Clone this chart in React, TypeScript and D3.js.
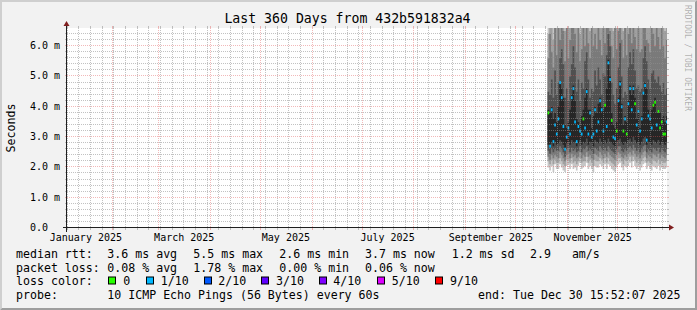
import React from "react";
import * as d3 from "d3";

const W = 697;
const H = 310;
const FONT = "'DejaVu Sans Mono', monospace";

const startTime = new Date(Date.UTC(2025, 0, 4, 15, 52, 7));
const endTime = new Date(Date.UTC(2025, 11, 30, 15, 52, 7));
const yMax = 6.6;

const yTicks = [0, 1, 2, 3, 4, 5, 6];
const yTickLabels = ["0.0", "1.0 m", "2.0 m", "3.0 m", "4.0 m", "5.0 m", "6.0 m"];
const xLabelMonths = ["2025-01-01", "2025-03-01", "2025-05-01", "2025-07-01", "2025-09-01", "2025-11-01"];
const xLabels = ["January 2025", "March 2025", "May 2025", "July 2025", "September 2025", "November 2025"];

const firstDay = "2025-10-20";

// median rtt per day (ms)
const median = [3.80,2.70,3.90,2.85,3.40,3.10,3.60,4.80,4.30,3.35,2.60,3.00,3.30,3.10,4.30,4.60,3.50,2.85,3.35,3.20,3.10,3.60,3.30,4.50,3.10,3.80,3.00,3.10,3.90,3.20,3.50,4.20,3.90,3.20,4.05,3.35,5.45,4.90,3.55,3.00,2.95,3.20,4.20,4.75,4.00,3.20,3.60,3.10,4.10,4.60,3.90,4.60,4.10,3.40,3.85,3.20,3.60,4.45,4.70,2.90,3.70,3.60,3.30,4.05,4.15,3.40,3.85,3.30,3.50,3.10,3.10,3.50];
// loss class index into lossColors
const lossClass = [0,1,1,1,1,1,1,1,1,1,1,1,1,1,1,1,1,1,1,1,1,0,1,1,1,1,1,1,1,1,1,1,1,1,0,1,1,1,0,1,1,0,1,1,1,0,1,0,1,1,1,1,0,1,1,1,1,1,1,1,1,1,1,0,0,1,0,0,0,0,0,1];

// sorted ping times per day (ms)
const ping1 = [2.00,1.90,2.05,1.85,2.10,1.95,1.95,2.10,2.00,1.90,1.85,2.05,2.10,1.95,2.10,1.95,2.00,1.90,2.05,2.15,1.95,2.00,2.05,2.15,1.95,2.05,1.95,1.85,2.05,2.00,2.00,2.10,2.05,1.95,2.10,1.95,2.10,2.05,1.95,1.90,1.85,2.00,2.10,2.15,2.00,1.90,2.05,2.00,2.05,2.15,2.00,2.20,2.05,1.95,2.05,1.90,2.00,2.10,2.15,1.95,2.05,1.95,1.90,2.05,2.00,1.95,2.05,1.90,2.00,1.95,1.95,2.00];
const ping2 = [2.20,2.10,2.25,2.10,2.25,2.15,2.15,2.30,2.20,2.10,2.05,2.25,2.25,2.15,2.30,2.15,2.20,2.10,2.20,2.30,2.15,2.20,2.20,2.35,2.15,2.25,2.15,2.05,2.25,2.20,2.20,2.30,2.25,2.15,2.30,2.15,2.30,2.20,2.15,2.10,2.05,2.20,2.30,2.30,2.20,2.10,2.25,2.20,2.25,2.35,2.20,2.35,2.25,2.15,2.25,2.10,2.20,2.30,2.35,2.15,2.20,2.15,2.10,2.25,2.20,2.15,2.25,2.10,2.20,2.15,2.15,2.20];
const ping3 = [2.35,2.25,2.40,2.30,2.40,2.35,2.30,2.50,2.40,2.30,2.20,2.40,2.45,2.30,2.45,2.35,2.40,2.30,2.35,2.50,2.30,2.40,2.35,2.50,2.35,2.40,2.30,2.25,2.45,2.40,2.35,2.50,2.40,2.30,2.45,2.35,2.50,2.40,2.35,2.30,2.25,2.40,2.50,2.45,2.35,2.30,2.40,2.35,2.45,2.50,2.40,2.55,2.45,2.35,2.40,2.30,2.40,2.50,2.55,2.30,2.40,2.35,2.30,2.45,2.40,2.35,2.45,2.30,2.40,2.35,2.30,2.40];
const ping4 = [2.55,2.45,2.60,2.50,2.60,2.55,2.55,2.70,2.60,2.50,2.35,2.60,2.65,2.50,2.65,2.55,2.60,2.50,2.55,2.70,2.50,2.60,2.60,2.70,2.55,2.60,2.55,2.45,2.65,2.60,2.55,2.70,2.60,2.55,2.65,2.55,2.70,2.60,2.55,2.50,2.45,2.60,2.70,2.70,2.55,2.50,2.60,2.55,2.65,2.70,2.60,2.75,2.65,2.55,2.60,2.50,2.60,2.70,2.75,2.50,2.60,2.55,2.50,2.65,2.60,2.55,2.65,2.50,2.60,2.55,2.50,2.60];
const ping5 = [2.75,2.65,2.80,2.70,2.85,2.75,2.80,2.90,2.85,2.75,2.55,2.80,2.85,2.75,2.90,2.80,2.85,2.70,2.80,2.90,2.75,2.85,2.80,2.95,2.75,2.85,2.80,2.70,2.90,2.85,2.80,2.95,2.85,2.75,2.90,2.80,2.95,2.85,2.80,2.75,2.70,2.85,2.90,2.95,2.80,2.75,2.85,2.80,2.90,2.95,2.85,3.00,2.90,2.80,2.85,2.75,2.85,2.95,3.00,2.75,2.85,2.80,2.75,2.90,2.85,2.80,2.90,2.75,2.85,2.80,2.75,2.85];
const ping6 = [3.90,3.80,4.00,3.60,3.80,3.50,4.00,4.85,4.60,4.30,3.40,3.30,3.50,3.90,4.40,4.70,4.20,3.60,3.50,3.40,3.70,3.90,4.30,4.60,3.90,3.90,3.30,3.70,4.00,3.80,4.10,4.30,4.00,3.90,4.10,4.60,5.55,5.00,3.80,3.40,3.30,3.50,4.30,4.85,4.10,3.40,3.70,3.50,4.20,4.70,4.40,4.70,4.30,3.60,3.90,3.30,3.70,4.50,4.80,4.60,3.90,3.70,3.90,4.10,4.30,3.80,3.90,3.80,3.60,3.70,3.50,3.70];
const ping7 = [4.5,4.4,4.9,4.3,5.2,4.4,4.8,5.6,5.9,5.4,4.3,4.6,4.2,5.0,5.4,6.0,5.3,4.5,4.9,4.2,4.8,4.6,5.5,5.8,4.9,4.3,4.6,4.5,5.2,4.7,5.3,4.9,4.4,5.1,5.0,5.7,6.4,6.0,4.8,4.4,4.1,4.6,5.3,6.1,5.0,4.3,4.5,4.4,5.3,5.8,5.4,5.9,5.2,4.6,4.7,4.5,4.6,5.6,6.0,5.5,4.9,4.6,5.1,5.2,4.9,4.8,5.0,4.7,4.5,4.8,4.4,4.6];
const ping8 = [5.6,6.4,5.8,5.3,6.7,5.7,6.9,6.2,7.0,6.5,5.5,6.8,5.6,6.2,7.2,6.6,6.4,5.8,6.9,5.5,5.9,6.8,6.0,6.9,6.1,5.6,6.7,6.0,6.4,5.9,6.9,6.2,5.7,6.8,6.1,6.8,7.3,6.5,6.0,5.6,6.7,5.9,6.5,7.1,6.2,5.6,6.9,5.7,6.4,6.9,6.1,7.0,6.3,5.9,6.8,5.8,5.9,6.7,7.1,6.2,6.1,5.8,6.8,6.4,6.0,6.7,6.3,5.9,6.9,6.0,5.6,6.2];
const ping9 = [6.4,7.5,6.9,6.2,7.8,6.8,8.0,7.1,8.3,7.6,6.5,7.9,6.6,7.3,8.2,7.6,7.5,6.7,8.0,6.4,6.9,7.8,7.0,8.1,7.2,6.5,7.7,7.0,7.5,6.9,8.0,7.2,6.6,7.9,7.1,7.9,8.6,7.6,7.0,6.5,7.8,6.9,7.6,8.3,7.2,6.5,8.0,6.6,7.5,8.0,7.1,8.2,7.4,6.8,7.9,6.7,6.9,7.8,8.3,7.3,7.1,6.7,7.9,7.5,7.0,7.8,7.3,6.9,8.0,7.0,6.5,7.2];
const ping10 = [9.2,10.1,8.8,9.6,10.4,9.0,10.8,9.5,11.2,10.0,8.9,10.6,9.1,9.8,11.0,10.2,9.9,9.3,10.5,8.9,9.4,10.3,9.6,10.9,9.7,9.0,10.2,9.5,10.0,9.3,10.7,9.8,9.1,10.4,9.6,10.5,11.5,10.1,9.5,9.0,10.3,9.4,10.1,11.1,9.7,9.0,10.6,9.2,10.0,10.7,9.6,10.9,9.9,9.3,10.4,9.2,9.4,10.3,11.0,9.8,9.6,9.2,10.5,10.0,9.5,10.3,9.8,9.4,10.6,9.5,9.0,9.7];

const smokeColors = ["#c6c6c6", "#a0a0a0", "#7a7a7a", "#505050", "#262626"];
const lossColors = ["#26ff00", "#00b8ff", "#0059ff", "#5e00ff", "#7e00ff", "#dd00ff", "#ff0000"];
const lossLabels = ["0", "1/10", "2/10", "3/10", "4/10", "5/10", "9/10"];

const titleText = "Last 360 Days from 432b591832a4";
const yTitle = "Seconds";
const watermark = "RRDTOOL / TOBI OETIKER";

const legendRtt = ["median rtt:", "3.6 ms avg", "5.5 ms max", "2.6 ms min", "3.7 ms now", "1.2 ms sd", "2.9   am/s"];
const legendLoss = ["packet loss:", "0.08 % avg", "1.78 % max", "0.00 % min", "0.06 % now"];
const legendLossTitle = "loss color:";
const legendProbe = ["probe:", "10 ICMP Echo Pings (56 Bytes) every 60s"];
const legendEnd = "end: Tue Dec 30 15:52:07 2025";

const X0 = 67, X1 = 667, Y0 = 228, Y1 = 28;

export default function App() {
  const x = d3.scaleUtc().domain([startTime, endTime]).range([X0, X1]);
  const y = d3.scaleLinear().domain([0, yMax]).range([Y0, Y1]);
  const day0 = new Date(firstDay + "T00:00:00Z");
  const days = median.map((_, i) => d3.utcDay.offset(day0, i));
  const dayEnd = d3.utcDay.offset(days[days.length - 1], 1);
  const pings = [ping1, ping2, ping3, ping4, ping5, ping6, ping7, ping8, ping9, ping10];

  const bands = smokeColors.map((color, k) => {
    const lo = pings[k];
    const hi = pings[9 - k];
    const pts = days.map((d, i) => ({ d, lo: lo[i], hi: hi[i] }));
    const last = pts[pts.length - 1];
    pts.push({ d: dayEnd, lo: last.lo, hi: last.hi });
    const area = d3
      .area<{ d: Date; lo: number; hi: number }>()
      .x((p) => x(p.d))
      .y0((p) => y(p.lo))
      .y1((p) => y(Math.min(p.hi, yMax + 1)))
      .curve(d3.curveStepAfter);
    return { color, path: area(pts) || "" };
  });

  const px = (v: number) => Math.round(v) - 0.5;

  const hMinor = d3.range(1, 34).filter((i) => i % 5 !== 0).map((i) => i * 0.2).filter((v) => v < yMax - 0.01);
  const hMajor = yTicks.filter((v) => v > 0);
  const monthLines = d3.utcMonth.range(startTime, endTime);
  const monthPx = new Set(monthLines.map((d) => px(x(d))));
  const weekLines = d3.utcSunday.range(startTime, endTime).filter((d) => !monthPx.has(px(x(d))));

  const gridGrey = "rgba(143,143,143,0.55)";
  const gridRed = "rgba(222,80,80,0.4)";

  const legendXs = [16, 107.3, 193.3, 279.3, 365, 451.7, 530];
  const boxXs = [108.5, 146.5, 204.5, 261.5, 319.5, 377.5, 435.5];
  const boxLabelXs = [123.3, 160.7, 218.3, 276, 333.3, 391.7, 450];
  const lineY = [258, 271.6, 285.2, 298.8];

  const txt = { fontFamily: FONT, whiteSpace: "pre" as const };

  return (
    <svg width={W} height={H} style={{ position: "absolute", left: 0, top: 0, display: "block" }}>
      <defs>
        <clipPath id="plotclip">
          <rect x={X0} y={Y1} width={X1 - X0} height={Y0 - Y1} />
        </clipPath>
      </defs>
      <rect x={0} y={0} width={W} height={H} fill="#f2f2f2" />
      <polygon points={`0,${H} 2,${H - 2} 2,2 ${W - 2},2 ${W},0 0,0`} fill="#cfcfcf" />
      <polygon points={`2,${H - 2} ${W - 2},${H - 2} ${W - 2},2 ${W},0 ${W},${H} 0,${H}`} fill="#9e9e9e" />
      <rect x={X0} y={Y1} width={X1 - X0} height={Y0 - Y1} fill="#ffffff" />

      <g clipPath="url(#plotclip)">
        {bands.map((b, k) => (
          <path key={k} d={b.path} fill={b.color} />
        ))}
        {days.map((d, i) => {
          const xa = x(d);
          const xb = x(d3.utcDay.offset(d, 1));
          const ym = y(median[i]);
          return (
            <rect key={i} x={xa} y={ym - 1.5} width={xb - xa} height={3} fill={lossColors[lossClass[i]]} />
          );
        })}
      </g>

      {/* grid */}
      <g>
        {hMinor.map((v, i) => {
          const yy = px(y(v));
          return (
            <g key={"hm" + i}>
              <line x1={X0} x2={X1} y1={yy} y2={yy} stroke={gridGrey} strokeDasharray="1,1" />
              <line x1={X0 - 2} x2={X0} y1={yy} y2={yy} stroke={gridGrey} />
              <line x1={X1} x2={X1 + 2} y1={yy} y2={yy} stroke={gridGrey} />
            </g>
          );
        })}
        {weekLines.map((d, i) => {
          const xx = px(x(d));
          return (
            <g key={"vm" + i}>
              <line x1={xx} x2={xx} y1={Y1} y2={Y0} stroke={gridGrey} strokeDasharray="1,1" />
              <line x1={xx} x2={xx} y1={Y1 - 2} y2={Y1} stroke={gridGrey} />
              <line x1={xx} x2={xx} y1={Y0} y2={Y0 + 2} stroke={gridGrey} />
            </g>
          );
        })}
        {hMajor.map((v, i) => {
          const yy = px(y(v));
          return (
            <g key={"hM" + i}>
              <line x1={X0} x2={X1} y1={yy} y2={yy} stroke={gridRed} strokeDasharray="1,1" />
              <line x1={X0 - 2} x2={X0} y1={yy} y2={yy} stroke={gridRed} />
              <line x1={X1} x2={X1 + 2} y1={yy} y2={yy} stroke={gridRed} />
            </g>
          );
        })}
        {monthLines.map((d, i) => {
          const xx = px(x(d));
          return (
            <g key={"vM" + i}>
              <line x1={xx} x2={xx} y1={Y1} y2={Y0} stroke={gridRed} strokeDasharray="1,1" />
              <line x1={xx} x2={xx} y1={Y1 - 2} y2={Y1} stroke={gridRed} />
              <line x1={xx} x2={xx} y1={Y0} y2={Y0 + 2} stroke={gridRed} />
            </g>
          );
        })}
        {/* axes */}
        <line x1={X0 - 4} x2={X1 + 3} y1={Y0 - 0.5} y2={Y0 - 0.5} stroke="#1f1f1f" />
        <line x1={X0 - 0.5} x2={X0 - 0.5} y1={Y0 + 4} y2={Y1 - 3} stroke="#1f1f1f" />
      </g>
      <polygon points={`${X1 + 2},${Y0 - 3.5} ${X1 + 2},${Y0 + 2.5} ${X1 + 7},${Y0 - 0.5}`} fill="#801f1f" />
      <polygon points={`${X0 - 3.5},${Y1 - 2} ${X0 + 2.5},${Y1 - 2} ${X0 - 0.5},${Y1 - 7}`} fill="#801f1f" />

      {/* y tick labels */}
      {yTicks.map((v, i) => (
        <text key={"yl" + i} x={30} y={px(y(v)) + 3.7} fontSize={10} style={txt} fill="#000">
          {yTickLabels[i]}
        </text>
      ))}
      {/* x labels */}
      {xLabelMonths.map((m, i) => {
        const d = d3.utcDay.offset(new Date(m + "T00:00:00Z"), 15);
        return (
          <text key={"xl" + i} x={x(d)} y={241} fontSize={10} textAnchor="middle" style={txt} fill="#000">
            {xLabels[i]}
          </text>
        );
      })}

      <text x={347.5} y={23} fontSize={13.2} textAnchor="middle" style={txt} fill="#000">
        {titleText}
      </text>
      <text transform="translate(14.5,128) rotate(-90)" fontSize={11.6} textAnchor="middle" style={txt} fill="#000">
        {yTitle}
      </text>
      <text transform="translate(684.5,5) rotate(90)" fontSize={8} style={txt} fill="#000" fillOpacity={0.3}>
        {watermark}
      </text>

      {/* legend */}
      {legendRtt.map((s, i) => (
        <text key={"lr" + i} x={legendXs[i]} y={lineY[0]} fontSize={11.6} style={txt} fill="#000">
          {s}
        </text>
      ))}
      {legendLoss.map((s, i) => (
        <text key={"ll" + i} x={legendXs[i]} y={lineY[1]} fontSize={11.6} style={txt} fill="#000">
          {s}
        </text>
      ))}
      <text x={16} y={lineY[2]} fontSize={11.6} style={txt} fill="#000">
        {legendLossTitle}
      </text>
      {lossColors.map((c, i) => (
        <g key={"lb" + i}>
          <rect x={boxXs[i]} y={lineY[2] - 8.2} width={7} height={7} fill={c} stroke="#000" strokeWidth={1} />
          <text x={boxLabelXs[i]} y={lineY[2]} fontSize={11.6} style={txt} fill="#000">
            {lossLabels[i]}
          </text>
        </g>
      ))}
      {legendProbe.map((s, i) => (
        <text key={"lp" + i} x={legendXs[i]} y={lineY[3]} fontSize={11.6} style={txt} fill="#000">
          {s}
        </text>
      ))}
      <text x={680.5} y={lineY[3]} fontSize={11.6} textAnchor="end" style={txt} fill="#000">
        {legendEnd}
      </text>
    </svg>
  );
}
